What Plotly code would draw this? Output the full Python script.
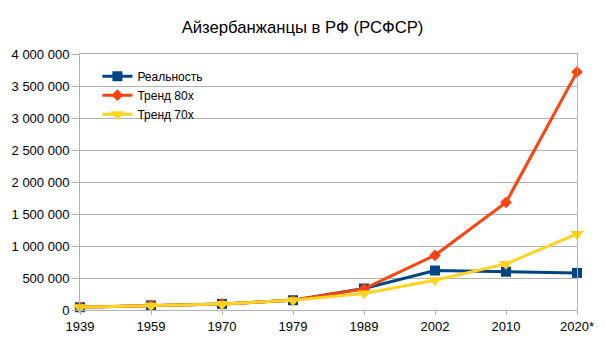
import plotly.graph_objects as go

categories = ["1939", "1959", "1970", "1979", "1989", "2002", "2010", "2020*"]
real = [43014, 70947, 95689, 152421, 335889, 617000, 598000, 580000]
trend80 = [43014, 70947, 95689, 152421, 330000, 855000, 1681000, 3720000]
trend70 = [43014, 70947, 95689, 152421, 257000, 465000, 720000, 1188000]
y_ticks = [0, 500000, 1000000, 1500000, 2000000, 2500000, 3000000, 3500000, 4000000]

FONT = "Liberation Sans, Arial, sans-serif"
GRID = "#b3b3b3"

fig = go.Figure()
fig.add_trace(go.Scatter(x=categories, y=real, name="Реальность", mode="lines+markers",
                         line=dict(color="#004586", width=3),
                         marker=dict(symbol="square", size=10, color="#004586"),
                         cliponaxis=False))
fig.add_trace(go.Scatter(x=categories, y=trend80, name="Тренд 80х", mode="lines+markers",
                         line=dict(color="#ff420e", width=3),
                         marker=dict(symbol="diamond", size=9, color="#ff420e"),
                         cliponaxis=False))
fig.add_trace(go.Scatter(x=categories, y=trend70, name="Тренд 70х", mode="lines+markers",
                         line=dict(color="#ffd320", width=3),
                         marker=dict(symbol="triangle-down", size=12, color="#ffd320"),
                         cliponaxis=False))

fig.update_layout(
    width=605, height=340,
    margin=dict(l=80, r=28, t=54, b=29.5, autoexpand=False),
    paper_bgcolor="white", plot_bgcolor="white",
    font=dict(family=FONT, size=13, color="#000000"),
    separators=", ",
    title=dict(text="Айзербанжанцы в РФ (РСФСР)", x=0.5, xanchor="center",
               y=1 - 27 / 340, yanchor="middle",
               font=dict(family=FONT, size=16.7, color="#000000")),
    showlegend=True,
    legend=dict(x=0.035, y=0.97, xanchor="left", yanchor="top",
                bgcolor="rgba(0,0,0,0)", font=dict(family=FONT, size=12),
                tracegroupgap=0, itemwidth=30),
    xaxis=dict(type="category", range=[0, 7], showgrid=False, automargin=False,
               showline=True, mirror=True, linecolor=GRID, linewidth=1,
               ticks="outside", ticklen=4, tickcolor=GRID,
               tickfont=dict(family=FONT, size=13), zeroline=False),
    yaxis=dict(range=[0, 4000000], tickvals=y_ticks, tickformat=",d", automargin=False,
               showgrid=True, gridcolor=GRID, gridwidth=1,
               showline=True, mirror=True, linecolor=GRID, linewidth=1,
               ticks="outside", ticklen=7, tickcolor=GRID,
               tickfont=dict(family=FONT, size=13), zeroline=False),
)

fig.write_html("out.html")
